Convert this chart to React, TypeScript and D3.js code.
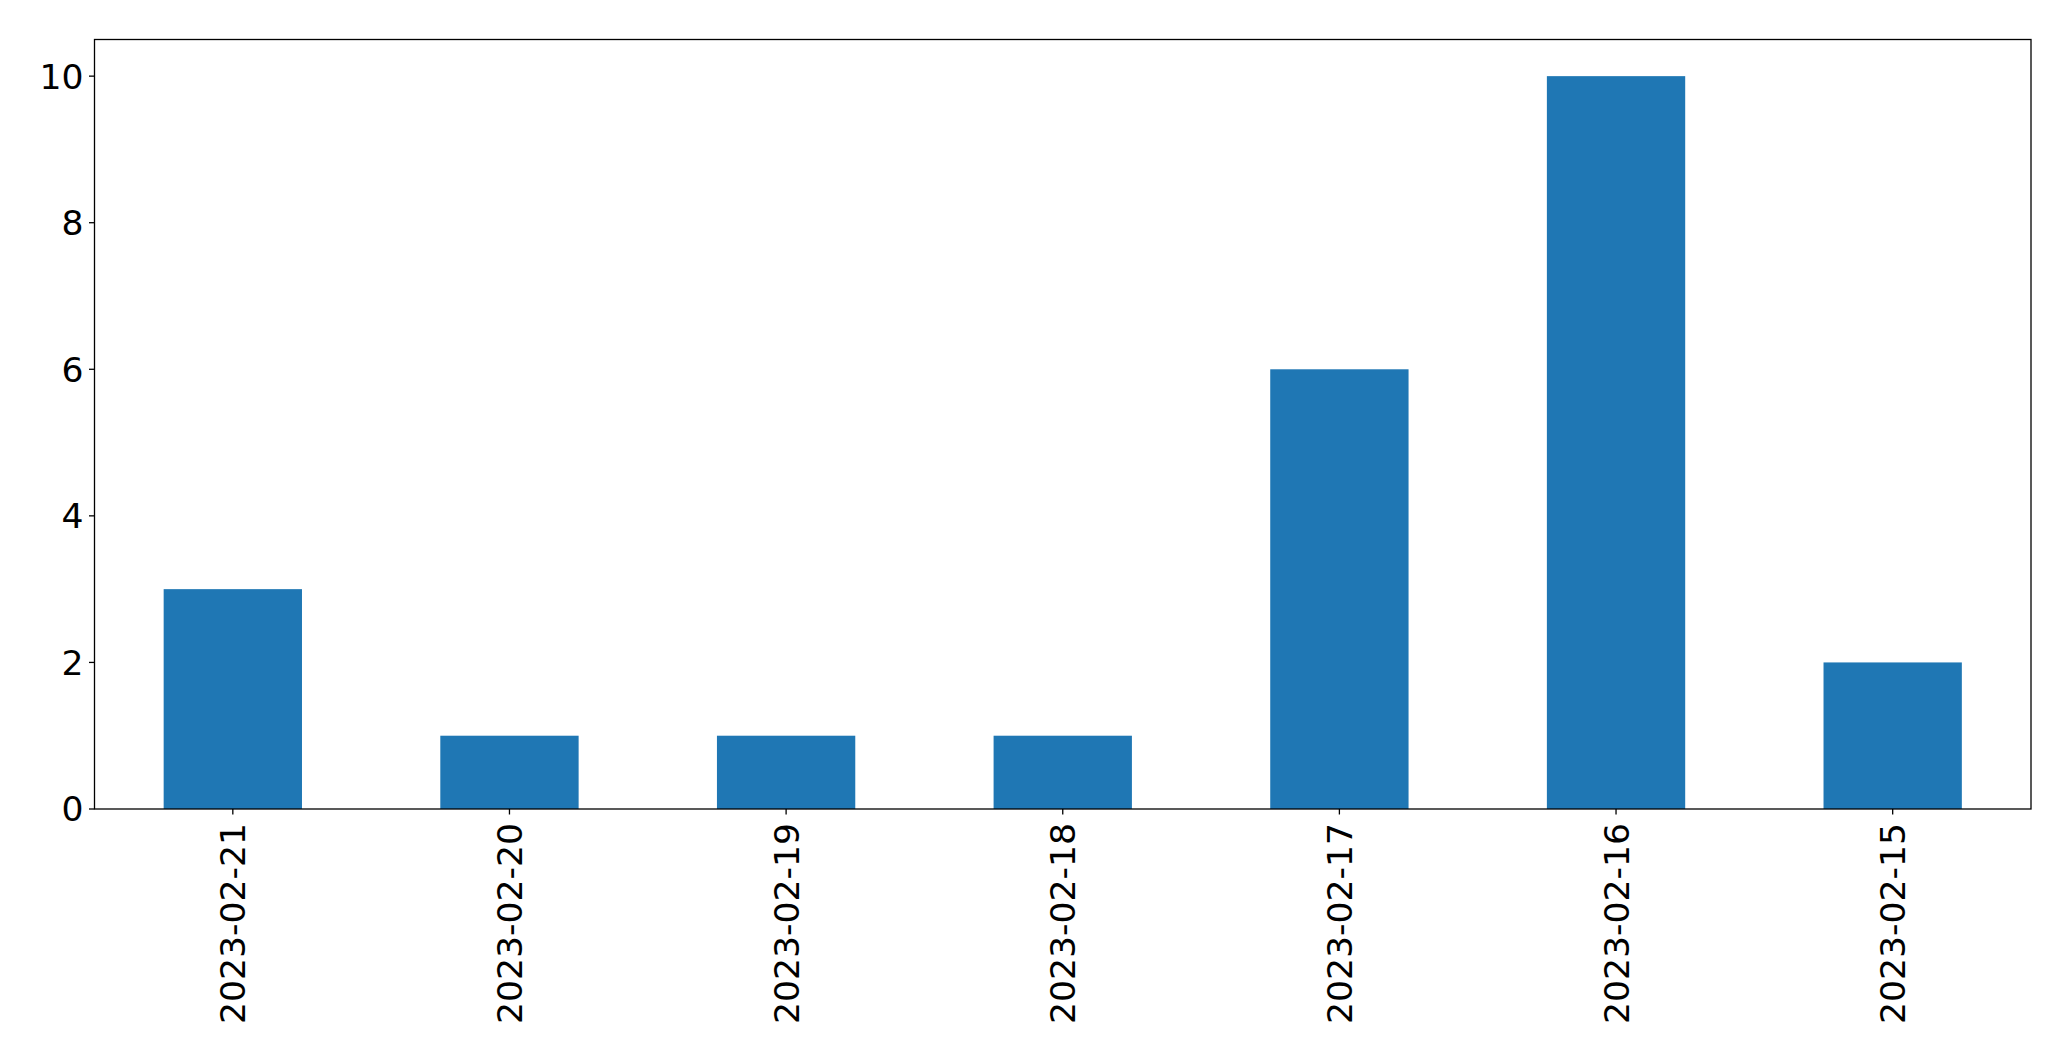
import React from "react";
import * as d3 from "d3";

const categories = ["2023-02-21", "2023-02-20", "2023-02-19", "2023-02-18", "2023-02-17", "2023-02-16", "2023-02-15"];
const values = [3, 1, 1, 1, 6, 10, 2];
const yTicks = [0, 2, 4, 6, 8, 10];

const W = 2071;
const H = 1061;
const M = { left: 94.5, right: 2031, top: 39.5, bottom: 809 };
const FONT = "'DejaVu Sans', sans-serif";
const FS = 34.6;

export default function App() {
  const x = d3.scaleLinear().domain([-0.5, categories.length - 0.5]).range([M.left, M.right]);
  const y = d3.scaleLinear().domain([0, 10.5]).range([M.bottom, M.top]);
  const bw = x(0.25) - x(-0.25);
  return (
    <svg width={W} height={H} style={{ position: "absolute", left: 0, top: 0, background: "#fff" }}>
      {values.map((v, i) => (
        <rect key={i} x={x(i) - bw / 2} y={y(v)} width={bw} height={y(0) - y(v)} fill="#1f77b4" />
      ))}
      <rect x={M.left} y={M.top} width={M.right - M.left} height={M.bottom - M.top} fill="none" stroke="#000" strokeWidth={1.3} />
      {yTicks.map((t) => (
        <g key={t}>
          <line x1={M.left - 5.5} x2={M.left} y1={y(t)} y2={y(t)} stroke="#000" strokeWidth={1.3} />
          <text x={M.left - 11} y={y(t)} dy="0.36em" textAnchor="end" fontFamily={FONT} fontSize={FS} fill="#000">
            {t}
          </text>
        </g>
      ))}
      {categories.map((c, i) => (
        <g key={c}>
          <line x1={x(i)} x2={x(i)} y1={M.bottom} y2={M.bottom + 5.5} stroke="#000" strokeWidth={1.3} />
          <text
            transform={`translate(${x(i)},${M.bottom + 14}) rotate(-90)`}
            dy="0.36em"
            textAnchor="end"
            fontFamily={FONT}
            fontSize={FS}
            fill="#000"
          >
            {c}
          </text>
        </g>
      ))}
    </svg>
  );
}
